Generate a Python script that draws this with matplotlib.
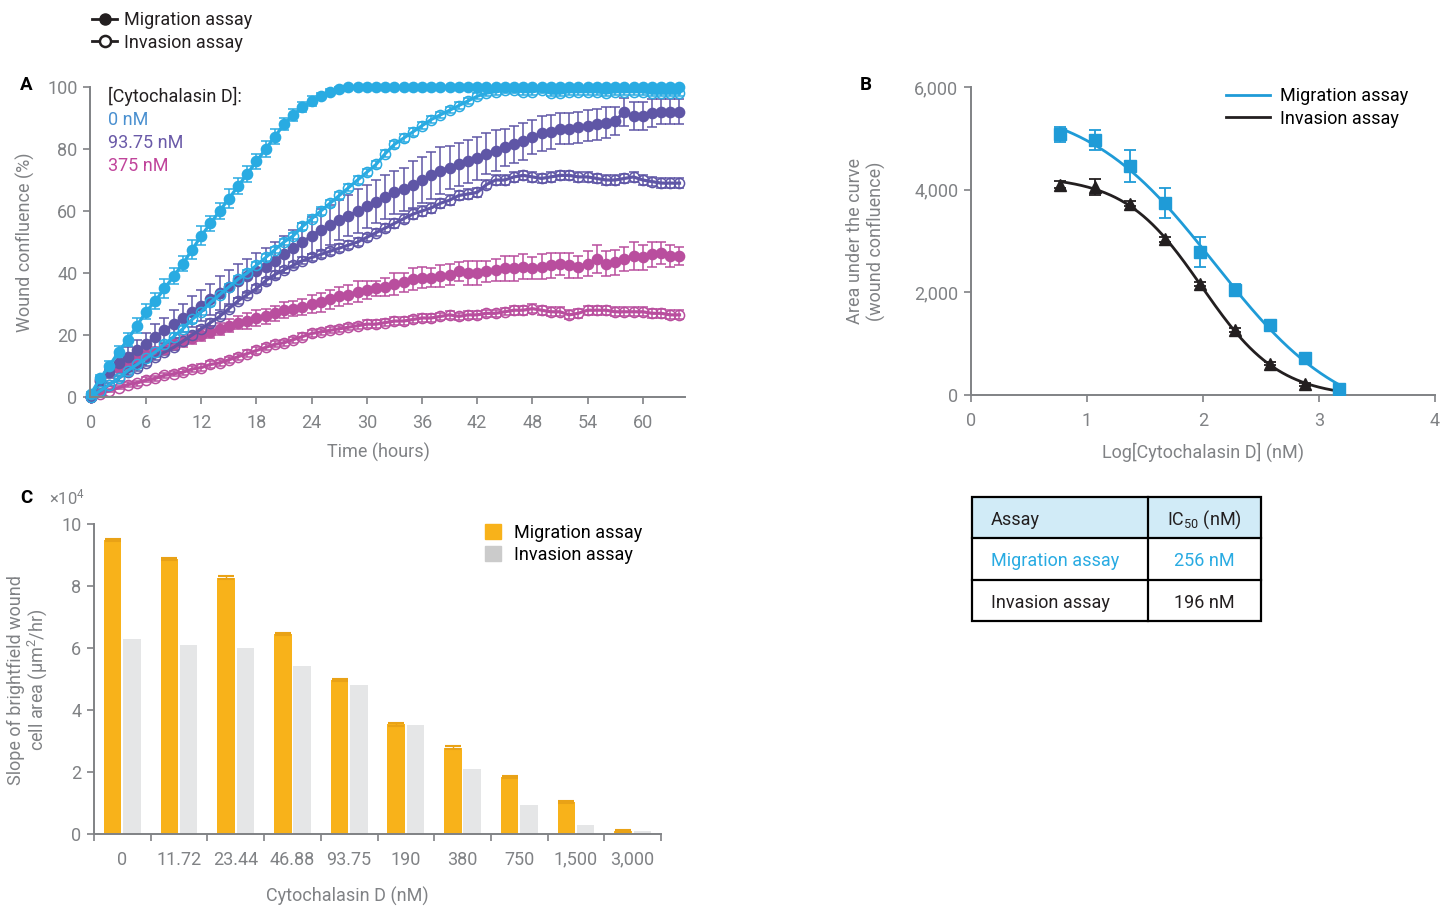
import numpy as np
import matplotlib
matplotlib.use("Agg")
import matplotlib.pyplot as plt
from matplotlib.lines import Line2D
from matplotlib.patches import Patch, Rectangle

plt.rcParams["font.family"] = ["Roboto", "DejaVu Sans"]
plt.rcParams["mathtext.fontset"] = "custom"
plt.rcParams["mathtext.rm"] = "Roboto"
plt.rcParams["mathtext.default"] = "regular"

# ---------------- data ----------------
hours = np.arange(65)

# Panel A: wound confluence (%) per hour
mig_0nM = [1, 6, 10, 14.5, 18.5, 23, 27.5, 31, 35, 39, 43, 47.5, 52, 56, 60, 64, 68, 72, 76, 80,
           84, 88, 91, 93.5, 95.5, 97, 98.5, 99.5, 100, 100, 100, 100, 100, 100, 100, 100, 100, 100, 100, 100,
           100, 100, 100, 100, 100, 100, 100, 100, 100, 100, 100, 100, 100, 100, 100, 100, 100, 100, 100, 100,
           100, 100, 100, 100, 100]
mig_0nM_err = [0.5, 1, 1.5, 2, 2, 2.5, 2.5, 2.5, 3, 2.5, 2.5, 3, 3, 2.5, 2.5, 3, 2.5, 2.5, 2.5, 2.5,
               2.5, 2, 2, 1.5, 1.5, 1, 1, 0.5, 0.3, 0.3, 0.3, 0.3, 0.3, 0.3, 0.3, 0.3, 0.3, 0.3, 0.3, 0.3,
               0.3, 0.3, 0.3, 0.3, 0.3, 0.3, 0.3, 0.3, 0.3, 0.3, 0.3, 0.3, 0.3, 0.3, 0.3, 0.3, 0.3, 0.3, 0.3, 0.3,
               0.3, 0.3, 0.3, 0.3, 0.3]
inv_0nM = [0, 2, 4, 6, 8.5, 10.5, 12.5, 14.5, 17, 19.5, 22, 25, 27.5, 30.5, 33, 35.5, 38, 40, 42.5, 45,
           47.5, 50, 52, 55, 57.5, 60, 62.5, 65, 67.5, 70, 72.5, 75, 78.5, 81.5, 83.5, 85.5, 87.5, 89.5, 91, 92.5,
           94, 95.5, 97, 98, 98.5, 99, 99, 98.5, 98.5, 99, 98, 98, 98.5, 98.5, 98.5, 98.5, 98, 98.5, 98.5, 98.5,
           98.5, 98, 98, 98, 98]
inv_0nM_err = [0.3, 0.5, 0.5, 0.8, 0.8, 1, 1, 1, 1, 1, 1, 1, 1, 1, 1, 1, 1, 1, 1, 1,
               1, 1, 1, 1.2, 1.2, 1.2, 1.2, 1.2, 1.2, 1.2, 1.2, 1.2, 1.2, 1.2, 1.2, 1.2, 1.2, 1, 1, 1,
               1, 1, 1, 1, 1, 1, 1, 1, 1, 1, 1, 1, 1, 1, 1, 1, 1, 1, 1, 1,
               1, 1, 1, 1, 1]
mig_94nM = [0, 5, 8, 11, 13, 15, 17, 19.5, 21.5, 23.5, 25.5, 27.5, 29.5, 31.5, 33.5, 35.5, 37.5, 39, 40.5, 42,
            44, 46, 48, 50, 52, 54, 55.5, 57, 58.5, 60, 61.5, 63, 64.5, 66, 67, 68.5, 70, 71.5, 73, 74,
            75, 76, 77, 78.5, 79.5, 80.5, 81.5, 82.5, 84, 85, 85.5, 86.5, 86.5, 87, 87.5, 88, 88.5, 89, 92, 90.5,
            90.5, 91.5, 92, 92, 92]
mig_94nM_err = [0.5, 1.5, 2, 2.5, 3, 3.5, 3.5, 4, 4, 4.5, 4.5, 5, 5, 5, 5.5, 5.5, 5.5, 5.5, 6, 6,
                6, 6, 6, 6, 6, 6.5, 6.5, 6.5, 6.5, 7, 7, 7, 7, 7, 7, 7.5, 7.5, 7.5, 7.5, 7,
                7, 7, 7, 6.5, 6.5, 6, 6, 6, 5.5, 5.5, 5.5, 5, 5, 5, 5, 5, 5, 4.5, 4.5, 4.5,
                4.5, 4.5, 4, 4, 4]
inv_94nM = [0, 2, 4, 6, 8, 9.5, 11, 13, 14.5, 16, 18, 20, 22, 24, 26, 28.5, 31, 33, 35, 37.5,
            39.5, 41, 42.5, 44, 45, 46, 47, 48, 49, 50, 51.5, 53, 54.5, 56, 57.5, 59, 60, 61, 62.5, 63.5,
            65, 65.5, 66, 68.5, 70, 70, 71, 71.5, 71, 70.5, 71, 71.5, 71.5, 71, 71, 70.5, 70, 70, 70.5, 71,
            70, 69.5, 69, 69, 69]
inv_94nM_err = [0.3, 0.5, 0.5, 0.8, 0.8, 1, 1, 1, 1, 1, 1, 1, 1, 1, 1, 1, 1, 1, 1, 1,
                1, 1, 1, 1.2, 1.2, 1.2, 1.2, 1.2, 1.2, 1.2, 1.2, 1.2, 1.2, 1.5, 1.5, 1.5, 1.5, 1.5, 1.5, 1.5,
                1.5, 1.5, 1.5, 1.5, 1.5, 1.5, 1.5, 1.5, 1.5, 1.5, 1.5, 1.5, 1.5, 1.5, 1.5, 1.5, 1.5, 1.5, 1.5, 1.5,
                1.5, 1.5, 1.5, 1.5, 1.5]
mig_375nM = [0, 5.5, 8, 9.5, 11, 12.5, 13.5, 14.5, 15.5, 17, 18, 19, 20, 21, 22, 23, 24, 24.5, 25.5, 26,
             27, 28, 28.5, 29, 30, 30.5, 31.5, 32.5, 33, 34, 34.5, 35, 35.5, 36.5, 37, 38, 38.5, 38.5, 39, 39.5,
             40.5, 40, 40, 40.5, 41, 41.5, 41.5, 42, 41.5, 42, 42.5, 43, 42.5, 42, 43, 44.5, 43, 43.5, 44.5, 45.5,
             45, 46, 46.5, 45.5, 45.5]
mig_375nM_err = [0.5, 1, 1, 1, 1.5, 1.5, 1.5, 1.5, 1.5, 2, 2, 2, 2, 2, 2, 2, 2, 2.5, 2.5, 2.5,
                 2.5, 2.5, 2.5, 2.5, 3, 3, 3, 3, 3, 3.5, 3, 2.5, 3, 3.5, 3, 3.5, 3.5, 3, 3.5, 3.5,
                 3, 4, 4, 3.5, 3.5, 4, 4, 4, 3.5, 4, 4, 3.5, 4, 3.5, 4, 4.5, 4, 4, 4, 4.5,
                 4, 4, 3.5, 3.5, 3]
inv_375nM = [0, 1, 2, 3, 4, 4.5, 5.5, 6, 7, 7.5, 8, 9, 9.5, 10.5, 11, 12, 13, 14, 15, 16,
             17, 17.5, 18.5, 19.5, 20.5, 21, 21.5, 22, 22.5, 23, 23.5, 23.5, 24, 24.5, 24.5, 25, 25.5, 25.5, 26, 26.5,
             26, 26.5, 26.5, 27, 27, 27.5, 28, 28, 28.5, 28, 27.5, 27.5, 26.5, 27, 28, 28, 28, 27.5, 27.5, 27.5,
             27.5, 27, 27, 26.5, 26.5]
inv_375nM_err = [0.3, 0.5, 0.5, 0.5, 0.8, 0.8, 0.8, 0.8, 0.8, 0.8, 1, 1, 1, 1, 1, 1, 1, 1, 1, 1,
                 1, 1, 1, 1, 1, 1, 1, 1, 1, 1, 1.2, 1.2, 1.2, 1.2, 1.2, 1.2, 1.2, 1.2, 1.2, 1.2,
                 1.2, 1.2, 1.2, 1.2, 1.2, 1.2, 1.5, 1.5, 1.5, 1.5, 1.5, 1.5, 1.5, 1.5, 1.5, 1.5, 1.5, 1.5, 1.5, 1.5,
                 1.5, 1.5, 1.5, 1.5, 1.5]

conc_labels_A = ["0 nM", "93.75 nM", "375 nM"]

# Panel B: area under the curve vs log concentration
auc_conc = [5.86, 11.72, 23.44, 46.88, 93.75, 187.5, 375, 750, 1500]
mig_auc = [5080, 4970, 4460, 3740, 2790, 2050, 1370, 730, 120]
mig_auc_err = [150, 200, 320, 300, 290, 120, 60, 40, 30]
inv_auc = [4100, 4050, 3730, 3030, 2160, 1270, 610, 210]
inv_auc_err = [60, 160, 50, 50, 40, 40, 30, 30]

# Panel C: slope of wound cell area (x10^4 um^2/hr)
conc_labels_C = ["0", "11.72", "23.44", "46.88", "93.75", "190", "380", "750", "1,500", "3,000"]
mig_slope = [9.49, 8.87, 8.27, 6.45, 4.96, 3.54, 2.79, 1.84, 1.03, 0.09]
inv_slope = [6.29, 6.09, 6.01, 5.42, 4.82, 3.52, 2.11, 0.92, 0.29, 0.09]

# Table
table_header = ["Assay", "IC$_{50}$ (nM)"]
table_rows = [["Migration assay", "256 nM"], ["Invasion assay", "196 nM"]]

# ---------------- styling ----------------
W, H = 1453, 909
GREY = "#808285"
DARK = "#231f20"
CYAN = "#29abe2"
PURPLE = "#5f56a6"
MAGENTA = "#b94e9e"
BLUE_B = "#1f9bd7"
ORANGE = "#f8b21a"
LIGHTGREY = "#e5e6e7"
TICK_FS = 13

fig = plt.figure(figsize=(W / 100, H / 100), dpi=100)


def fig_rect(x0, y0, x1, y1):
    return [x0 / W, 1 - y1 / H, (x1 - x0) / W, (y1 - y0) / H]


def ftext(px, py, s, **kw):
    fig.text(px / W, 1 - py / H, s, **kw)


def style_axes(ax):
    for side in ("top", "right"):
        ax.spines[side].set_visible(False)
    for side in ("left", "bottom"):
        ax.spines[side].set_color(GREY)
        ax.spines[side].set_linewidth(1.4)
    ax.tick_params(direction="out", length=5, width=1.2, color=GREY,
                   labelcolor=GREY, labelsize=TICK_FS)
    ax.tick_params(axis="x", pad=7)
    ax.tick_params(axis="y", pad=4)


# ---------------- Panel A ----------------
axA = fig.add_axes(fig_rect(90, 87, 685, 397))
style_axes(axA)
series = [
    (inv_375nM, inv_375nM_err, MAGENTA, False),
    (mig_375nM, mig_375nM_err, MAGENTA, True),
    (inv_94nM, inv_94nM_err, PURPLE, False),
    (mig_94nM, mig_94nM_err, PURPLE, True),
    (inv_0nM, inv_0nM_err, CYAN, False),
    (mig_0nM, mig_0nM_err, CYAN, True),
]
for vals, err, col, filled in series:
    axA.errorbar(hours, vals, yerr=err, fmt="-o", color=col, lw=2.3,
                 ms=7.3, mfc=col if filled else "none", mec=col, mew=1.1,
                 elinewidth=1.1, capsize=3.5, capthick=1.1, clip_on=False)
axA.set_xlim(-0.1, 64.6)
axA.set_ylim(0, 100)
axA.set_xticks(np.arange(0, 61, 6))
axA.set_yticks(np.arange(0, 101, 20))

ftext(108, 96, "[Cytochalasin D]:", fontsize=13, color=DARK, va="center")
for lab, col, py in zip(conc_labels_A, ["#4a90d0", "#6a5aa8", "#c0449b"], [120, 143, 166]):
    ftext(108, py, lab, fontsize=13, color=col, va="center")

ftext(25, 242, "Wound confluence (%)", fontsize=13, color=GREY, rotation=90,
      ha="center", va="center")
ftext(378, 452, "Time (hours)", fontsize=13, color=GREY, ha="center", va="center")

top_handles = [
    Line2D([], [], color=DARK, lw=2, marker="o", ms=8, mfc=DARK, mec=DARK),
    Line2D([], [], color=DARK, lw=2, marker="o", ms=8, mfc="white", mec=DARK, mew=1.8),
]
fig.legend(top_handles, ["Migration assay", "Invasion assay"],
           loc="upper left", bbox_to_anchor=(92 / W, 1 - 11 / H), frameon=False,
           fontsize=13, handlelength=1.4, handletextpad=0.35, labelspacing=0.25,
           borderpad=0, borderaxespad=0, labelcolor=DARK)

# ---------------- Panel B ----------------
axB = fig.add_axes(fig_rect(971, 87, 1435, 395))
style_axes(axB)
axB.set_xlim(0, 4)
axB.set_ylim(0, 6000)
axB.set_xticks([0, 1, 2, 3, 4])
axB.set_yticks([0, 2000, 4000, 6000])
axB.set_yticklabels([f"{v:,}" for v in [0, 2000, 4000, 6000]])


def fit_logistic(x, y):
    """Four-parameter logistic fit: grid over midpoint/slope, closed-form top/bottom."""
    x = np.asarray(x, float)
    y = np.asarray(y, float)
    cs = np.linspace(1.0, 3.5, 251)[:, None, None]
    hs = np.linspace(0.3, 3.0, 136)[None, :, None]
    s = 1.0 / (1.0 + 10 ** ((x[None, None, :] - cs) * hs))
    sm = s.mean(-1, keepdims=True)
    ym = y.mean()
    slope = ((s - sm) * (y - ym)).sum(-1) / ((s - sm) ** 2).sum(-1)
    icpt = ym - slope * sm[..., 0]
    pred = icpt[..., None] + slope[..., None] * s
    sse = ((pred - y) ** 2).sum(-1)
    i, j = np.unravel_index(np.argmin(sse), sse.shape)
    c, h = cs[i, 0, 0], hs[0, j, 0]
    a, b = icpt[i, j], slope[i, j]
    return lambda xx: a + b / (1.0 + 10 ** ((np.asarray(xx) - c) * h))


logc = np.log10(auc_conc)
xs = np.linspace(logc[0], logc[-1], 300)
f_mig = fit_logistic(logc, mig_auc)
f_inv = fit_logistic(logc[:len(inv_auc)], inv_auc)
axB.plot(xs, f_inv(xs), color=DARK, lw=2, label="Invasion assay", zorder=2)
axB.plot(xs, f_mig(xs), color=BLUE_B, lw=2, label="Migration assay", zorder=3)
axB.errorbar(logc[:len(inv_auc)], inv_auc, yerr=inv_auc_err, fmt="^", color=DARK,
             ms=8.5, elinewidth=1.3, capsize=4.5, capthick=1.3, zorder=4)
axB.errorbar(logc, mig_auc, yerr=mig_auc_err, fmt="s", color=BLUE_B,
             ms=8.5, elinewidth=1.3, capsize=4.5, capthick=1.3, zorder=5)
hB, lB = axB.get_legend_handles_labels()
axB.legend(hB[::-1], lB[::-1], loc="upper left", bbox_to_anchor=(0.55, 1.0),
           frameon=False, fontsize=13, handlelength=2.4, handletextpad=0.6,
           labelspacing=0.25, borderpad=0, borderaxespad=0)

ftext(866, 241, "Area under the curve\n(wound confluence)", fontsize=13, color=GREY,
      rotation=90, ha="center", va="center", linespacing=1.15)
ftext(1203, 452, "Log[Cytochalasin D] (nM)", fontsize=13, color=GREY, ha="center", va="center")

# ---------------- Panel C ----------------
axC = fig.add_axes(fig_rect(94, 524, 661, 834))
style_axes(axC)
xc = np.arange(len(conc_labels_C))
axC.bar(xc - 0.17, mig_slope, 0.31, color=ORANGE, label="Migration assay")
axC.bar(xc + 0.17, inv_slope, 0.31, color=LIGHTGREY)
axC.errorbar(xc - 0.17, mig_slope, yerr=0.04, fmt="none", ecolor="#e9a216",
             elinewidth=1, capsize=5.5, capthick=1.5)
axC.set_xlim(-0.5, len(conc_labels_C) - 0.5)
axC.set_ylim(0, 10)
axC.set_yticks(np.arange(0, 11, 2))
axC.set_xticks(np.arange(-0.5, len(conc_labels_C)), labels=[])
axC.set_xticks(xc, minor=True)
axC.set_xticklabels(conc_labels_C, minor=True)
axC.tick_params(axis="x", which="minor", length=0, pad=12, labelsize=TICK_FS, labelcolor=GREY)
axC.legend([Patch(color=ORANGE), Patch(color="#cbcbcb")],
           ["Migration assay", "Invasion assay"], loc="upper left",
           bbox_to_anchor=(0.69, 1.0), frameon=False, fontsize=13,
           handlelength=0.9, handleheight=0.9, handletextpad=0.7,
           labelspacing=0.2, borderpad=0, borderaxespad=0)

ftext(49, 497, "×10$^{4}$", fontsize=12, color=GREY, va="center")
ftext(28, 680, "Slope of brightfield wound\ncell area (µm$^{2}$/hr)", fontsize=13,
      color=GREY, rotation=90, ha="center", va="center", linespacing=1.05)
ftext(347, 896, "Cytochalasin D (nM)", fontsize=13, color=GREY, ha="center", va="center")

# Panel letters
for lab, px, py in [("A", 26, 85), ("B", 866, 85), ("C", 26, 498)]:
    ftext(px, py, lab, fontsize=13.5, fontweight="bold", color="black",
          ha="center", va="center")

# ---------------- IC50 table ----------------
ov = fig.add_axes([0, 0, 1, 1])
ov.set_xlim(0, W)
ov.set_ylim(H, 0)
ov.axis("off")
ov.patch.set_alpha(0)
tx0, tx1, tcol = 972, 1261, 1148
ty = [497, 538, 580, 621]
ov.add_patch(Rectangle((tx0, ty[0]), tx1 - tx0, ty[1] - ty[0], color="#d1ebf7", lw=0))
ov.add_patch(Rectangle((tx0, ty[0]), tx1 - tx0, ty[-1] - ty[0], fill=False,
                       ec="black", lw=1.6))
for yy in ty[1:-1]:
    ov.plot([tx0, tx1], [yy, yy], color="black", lw=1.6)
ov.plot([tcol, tcol], [ty[0], ty[-1]], color="black", lw=1.6)
row_colors = [DARK, CYAN, DARK]
for r, (left, right) in enumerate([table_header] + table_rows):
    yc = (ty[r] + ty[r + 1]) / 2 + 2.5
    ov.text(991, yc, left, fontsize=13, color=row_colors[r], va="center", ha="left")
    ov.text((tcol + tx1) / 2, yc, right, fontsize=13, color=row_colors[r],
            va="center", ha="center")

fig.savefig("out.png", dpi=100)
